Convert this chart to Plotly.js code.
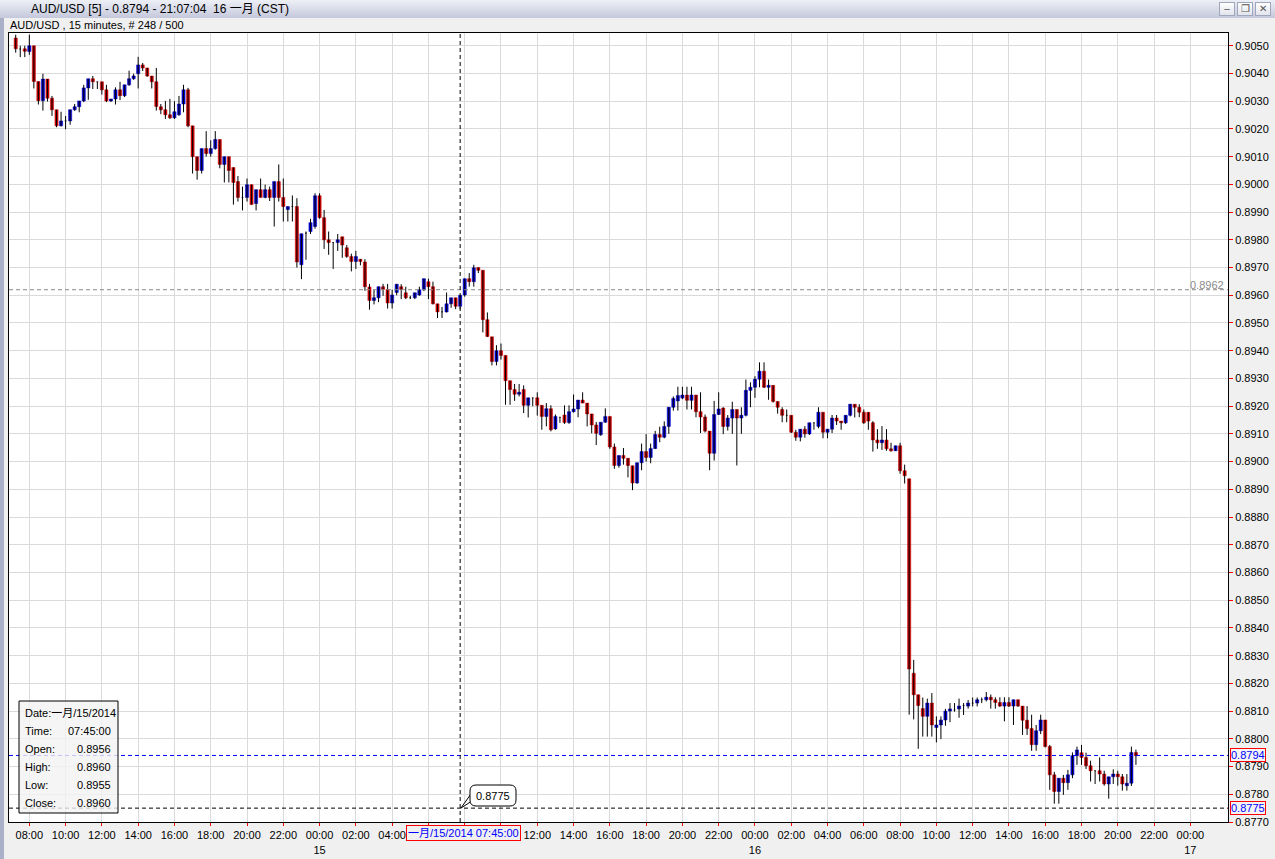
<!DOCTYPE html>
<html><head><meta charset="utf-8">
<script src="https://cdn.plot.ly/plotly-3.0.1.min.js"></script>
<style>
html,body{margin:0;padding:0;width:1275px;height:859px;overflow:hidden;background:#f0f0f0;font-family:"Liberation Sans",Arial,"Noto Sans CJK SC",sans-serif;}
#bar{position:absolute;left:0;top:0;width:1275px;height:18px;background:linear-gradient(#eef0f7,#c4c8db);}
#bar .t{position:absolute;left:31px;top:3px;font-size:12px;line-height:13px;color:#000;white-space:nowrap;}
#icon{position:absolute;left:10px;top:5px;width:15px;height:10px;background-image:radial-gradient(#666 40%,transparent 45%);background-size:2px 2px;}
.btn{position:absolute;top:2px;width:14px;height:12px;border:1px solid #a0a6bc;background:linear-gradient(#ffffff,#e2e4ec);font-size:10px;line-height:12px;text-align:center;color:#555;}
#sub{position:absolute;left:10px;top:19px;font-size:11px;line-height:13px;color:#000;white-space:nowrap;}
#strip{position:absolute;left:0;top:18px;width:4px;height:841px;background:#aab0c8;}
#chart{position:absolute;left:0;top:0;width:1275px;height:859px;}
</style></head><body>
<div id="bar"><div id="icon"></div><div class="t">AUD/USD [5] - 0.8794 - 21:07:04&nbsp; 16 一月 (CST)</div>
<div class="btn" style="left:1219px">&#8211;</div><div class="btn" style="left:1237px">&#10064;</div><div class="btn" style="left:1255px">&#10005;</div></div>
<div id="sub">AUD/USD , 15 minutes, # 248 / 500</div>
<div id="strip"></div>
<div id="chart"></div>
<script>
// 15-minute candles, 2014-01-14 07:15 .. 2014-01-16 21:00 (CST)
const openP = [
0.90528,0.90488,0.90489,0.90479,0.90500,0.90371,0.90302,0.90380,0.90311,0.90269,
0.90211,0.90229,0.90229,0.90269,0.90280,0.90301,0.90348,0.90381,0.90370,0.90370,
0.90341,0.90301,0.90308,0.90341,0.90320,0.90359,0.90381,0.90399,0.90431,0.90420,
0.90391,0.90370,0.90280,0.90269,0.90251,0.90240,0.90251,0.90290,0.90341,0.90211,
0.90100,0.90050,0.90129,0.90111,0.90129,0.90162,0.90072,0.90100,0.90061,0.90010,
0.89953,0.89953,0.89999,0.89931,0.89981,0.89953,0.89981,0.89953,0.90010,0.89953,
0.89909,0.89920,0.89920,0.89710,0.89824,0.89830,0.89848,0.89959,0.89880,0.89800,
0.89790,0.89790,0.89811,0.89771,0.89740,0.89722,0.89730,0.89720,0.89630,0.89581,
0.89591,0.89631,0.89621,0.89572,0.89610,0.89631,0.89609,0.89591,0.89591,0.89601,
0.89620,0.89649,0.89631,0.89569,0.89540,0.89540,0.89569,0.89591,0.89560,0.89601,
0.89660,0.89649,0.89700,0.89690,0.89512,0.89450,0.89361,0.89400,0.89383,0.89292,
0.89260,0.89243,0.89260,0.89203,0.89230,0.89230,0.89203,0.89163,0.89191,0.89118,
0.89160,0.89168,0.89141,0.89180,0.89190,0.89222,0.89211,0.89172,0.89132,0.89097,
0.89142,0.89163,0.89053,0.88986,0.89022,0.89012,0.88985,0.88923,0.88996,0.89036,
0.89015,0.89047,0.89098,0.89088,0.89127,0.89196,0.89219,0.89229,0.89240,0.89221,
0.89240,0.89180,0.89161,0.89110,0.89030,0.89170,0.89193,0.89127,0.89157,0.89188,
0.89157,0.89167,0.89257,0.89268,0.89297,0.89326,0.89268,0.89275,0.89217,0.89188,
0.89167,0.89167,0.89106,0.89088,0.89117,0.89100,0.89140,0.89127,0.89178,0.89106,
0.89117,0.89157,0.89146,0.89140,0.89167,0.89207,0.89196,0.89178,0.89178,0.89140,
0.89078,0.89068,0.89078,0.89046,0.89039,0.89057,0.88967,0.88938,0.88237,0.88159,
0.88109,0.88081,0.88129,0.88041,0.88050,0.88068,0.88100,0.88104,0.88108,0.88120,
0.88118,0.88129,0.88129,0.88141,0.88141,0.88150,0.88141,0.88131,0.88118,0.88131,
0.88118,0.88141,0.88118,0.88067,0.88037,0.87979,0.88029,0.88068,0.87972,0.87870,
0.87810,0.87858,0.87842,0.87870,0.87939,0.87950,0.87933,0.87903,0.87885,0.87885,
0.87873,0.87837,0.87863,0.87873,0.87863,0.87831,0.87840,0.87951];
const highP = [
0.90540,0.90500,0.90500,0.90540,0.90500,0.90371,0.90399,0.90380,0.90319,0.90269,
0.90262,0.90247,0.90270,0.90290,0.90301,0.90359,0.90381,0.90391,0.90370,0.90370,
0.90359,0.90308,0.90350,0.90370,0.90359,0.90410,0.90399,0.90460,0.90438,0.90420,
0.90391,0.90420,0.90290,0.90301,0.90308,0.90300,0.90319,0.90359,0.90348,0.90211,
0.90100,0.90129,0.90192,0.90159,0.90192,0.90162,0.90100,0.90100,0.90061,0.90030,
0.89992,0.90021,0.89999,0.89981,0.90021,0.89999,0.89992,0.90010,0.90072,0.90021,
0.89920,0.89960,0.89950,0.89822,0.89830,0.89876,0.89968,0.89968,0.89908,0.89830,
0.89790,0.89821,0.89811,0.89781,0.89750,0.89760,0.89730,0.89730,0.89641,0.89620,
0.89631,0.89641,0.89641,0.89620,0.89640,0.89640,0.89631,0.89598,0.89609,0.89631,
0.89660,0.89660,0.89649,0.89569,0.89558,0.89610,0.89591,0.89591,0.89600,0.89660,
0.89680,0.89710,0.89700,0.89690,0.89538,0.89450,0.89420,0.89426,0.89383,0.89292,
0.89280,0.89280,0.89275,0.89230,0.89230,0.89250,0.89203,0.89211,0.89203,0.89170,
0.89160,0.89203,0.89203,0.89242,0.89222,0.89250,0.89211,0.89172,0.89143,0.89142,
0.89192,0.89163,0.89065,0.89022,0.89049,0.89012,0.88985,0.88996,0.89065,0.89099,
0.89065,0.89111,0.89126,0.89145,0.89196,0.89235,0.89270,0.89270,0.89270,0.89270,
0.89240,0.89250,0.89170,0.89110,0.89219,0.89250,0.89196,0.89168,0.89216,0.89188,
0.89196,0.89296,0.89286,0.89308,0.89358,0.89358,0.89296,0.89275,0.89217,0.89196,
0.89188,0.89167,0.89115,0.89117,0.89128,0.89140,0.89140,0.89196,0.89178,0.89117,
0.89168,0.89168,0.89146,0.89167,0.89207,0.89207,0.89207,0.89188,0.89178,0.89146,
0.89117,0.89128,0.89117,0.89068,0.89057,0.89068,0.88989,0.88938,0.88285,0.88159,
0.88149,0.88145,0.88165,0.88081,0.88081,0.88108,0.88129,0.88129,0.88145,0.88129,
0.88140,0.88149,0.88149,0.88149,0.88169,0.88160,0.88150,0.88150,0.88150,0.88150,
0.88141,0.88141,0.88118,0.88118,0.88087,0.88050,0.88087,0.88068,0.87978,0.87881,
0.87858,0.87870,0.87888,0.87951,0.87972,0.87978,0.87950,0.87921,0.87885,0.87933,
0.87885,0.87863,0.87890,0.87885,0.87873,0.87873,0.87972,0.87961];
const lowP = [
0.90475,0.90459,0.90459,0.90467,0.90346,0.90288,0.90266,0.90299,0.90247,0.90206,
0.90209,0.90199,0.90215,0.90265,0.90260,0.90297,0.90305,0.90344,0.90344,0.90324,
0.90297,0.90297,0.90288,0.90304,0.90315,0.90355,0.90377,0.90346,0.90409,0.90388,
0.90346,0.90266,0.90253,0.90236,0.90236,0.90236,0.90247,0.90260,0.90206,0.90039,
0.90017,0.90039,0.90100,0.90100,0.90125,0.90058,0.90007,0.90007,0.89927,0.89938,
0.89906,0.89938,0.89927,0.89906,0.89953,0.89950,0.89940,0.89848,0.89938,0.89866,
0.89866,0.89866,0.89700,0.89658,0.89728,0.89821,0.89840,0.89876,0.89767,0.89746,
0.89695,0.89760,0.89735,0.89735,0.89686,0.89695,0.89708,0.89616,0.89548,0.89567,
0.89575,0.89598,0.89552,0.89552,0.89600,0.89586,0.89586,0.89586,0.89586,0.89598,
0.89615,0.89586,0.89567,0.89518,0.89518,0.89538,0.89555,0.89550,0.89550,0.89595,
0.89631,0.89631,0.89680,0.89466,0.89450,0.89347,0.89347,0.89368,0.89205,0.89205,
0.89219,0.89235,0.89175,0.89159,0.89200,0.89166,0.89115,0.89127,0.89109,0.89115,
0.89140,0.89136,0.89136,0.89177,0.89160,0.89211,0.89127,0.89102,0.89060,0.89093,
0.89140,0.89046,0.88974,0.88978,0.88989,0.88943,0.88897,0.88920,0.88969,0.89000,
0.88994,0.89045,0.89070,0.89084,0.89100,0.89184,0.89184,0.89225,0.89188,0.89188,
0.89160,0.89103,0.89105,0.88969,0.89004,0.89168,0.89099,0.89112,0.89100,0.88986,
0.89100,0.89163,0.89196,0.89230,0.89268,0.89265,0.89223,0.89213,0.89173,0.89142,
0.89142,0.89103,0.89075,0.89073,0.89086,0.89096,0.89115,0.89120,0.89084,0.89084,
0.89103,0.89132,0.89115,0.89136,0.89163,0.89159,0.89160,0.89136,0.89115,0.89036,
0.89046,0.89042,0.89039,0.89036,0.89039,0.88956,0.88921,0.88087,0.88070,0.87964,
0.88008,0.88008,0.88008,0.87987,0.87999,0.88047,0.88060,0.88098,0.88076,0.88086,
0.88109,0.88117,0.88117,0.88129,0.88135,0.88109,0.88109,0.88115,0.88063,0.88115,
0.88050,0.88115,0.88014,0.88014,0.87957,0.87957,0.88017,0.87969,0.87816,0.87766,
0.87766,0.87798,0.87816,0.87858,0.87906,0.87906,0.87891,0.87846,0.87837,0.87846,
0.87831,0.87784,0.87837,0.87831,0.87813,0.87813,0.87830,0.87906];
const closeP = [
0.90489,0.90488,0.90480,0.90500,0.90371,0.90302,0.90380,0.90311,0.90269,0.90211,
0.90229,0.90229,0.90269,0.90280,0.90301,0.90348,0.90381,0.90370,0.90370,0.90341,
0.90301,0.90308,0.90341,0.90320,0.90359,0.90381,0.90391,0.90431,0.90420,0.90391,
0.90370,0.90281,0.90269,0.90251,0.90240,0.90262,0.90290,0.90341,0.90211,0.90100,
0.90050,0.90129,0.90111,0.90129,0.90162,0.90072,0.90100,0.90050,0.90007,0.89953,
0.89953,0.89999,0.89927,0.89981,0.89953,0.89981,0.89953,0.90010,0.89953,0.89920,
0.89920,0.89920,0.89720,0.89822,0.89824,0.89862,0.89959,0.89880,0.89800,0.89790,
0.89790,0.89800,0.89781,0.89740,0.89722,0.89740,0.89722,0.89631,0.89581,0.89591,
0.89631,0.89621,0.89572,0.89601,0.89640,0.89621,0.89591,0.89591,0.89609,0.89620,
0.89660,0.89631,0.89569,0.89540,0.89540,0.89569,0.89591,0.89560,0.89600,0.89660,
0.89649,0.89699,0.89690,0.89512,0.89451,0.89361,0.89400,0.89383,0.89292,0.89260,
0.89243,0.89250,0.89203,0.89230,0.89230,0.89203,0.89163,0.89191,0.89115,0.89163,
0.89160,0.89141,0.89180,0.89190,0.89222,0.89211,0.89172,0.89132,0.89102,0.89142,
0.89163,0.89053,0.88986,0.89022,0.89012,0.88986,0.88923,0.88996,0.89036,0.89015,
0.89047,0.89098,0.89088,0.89127,0.89196,0.89228,0.89238,0.89240,0.89221,0.89240,
0.89180,0.89161,0.89110,0.89030,0.89170,0.89190,0.89127,0.89157,0.89188,0.89157,
0.89167,0.89257,0.89268,0.89297,0.89326,0.89268,0.89275,0.89217,0.89196,0.89167,
0.89167,0.89106,0.89088,0.89117,0.89100,0.89140,0.89140,0.89178,0.89106,0.89117,
0.89157,0.89146,0.89140,0.89167,0.89207,0.89196,0.89178,0.89140,0.89146,0.89078,
0.89068,0.89078,0.89046,0.89039,0.89057,0.88967,0.88949,0.88252,0.88159,0.88120,
0.88081,0.88129,0.88050,0.88050,0.88068,0.88100,0.88108,0.88104,0.88118,0.88120,
0.88129,0.88129,0.88141,0.88141,0.88150,0.88141,0.88131,0.88118,0.88131,0.88118,
0.88141,0.88118,0.88067,0.88037,0.87979,0.88029,0.88068,0.87972,0.87870,0.87810,
0.87858,0.87842,0.87870,0.87939,0.87960,0.87933,0.87903,0.87885,0.87885,0.87873,
0.87837,0.87863,0.87873,0.87863,0.87837,0.87840,0.87951,0.87939];

// tick labels every 2 hours; the three hidden under the cursor date label are left blank
const xTickLabels = ['08:00','10:00','12:00','14:00','16:00','18:00','20:00','22:00','00:00<br>15',
 '02:00','04:00','','','','12:00','14:00','16:00','18:00','20:00','22:00','00:00<br>16',
 '02:00','04:00','06:00','08:00','10:00','12:00','14:00','16:00','18:00','20:00','22:00','00:00<br>17'];
const firstTickIndex = 3;      // 08:00 candle (first candle is 07:15)
const candlesPerTick = 8;      // 2 hours of 15-minute candles

const levelGray = 0.8962, levelBid = 0.8794, levelCross = 0.8775;
const crossIndex = 98;         // 一月/15/2014 07:45:00
const crossLabel = '一月/15/2014 07:45:00';
const tipLabels = ['Time:','Open:','High:','Low:','Close:'];
const tipValues = ['07:45:00','0.8956','0.8960','0.8955','0.8960'];
const tipDate = 'Date:一月/15/2014';

// ---------- build ----------
const idx = openP.map((_, i) => i);
const isDoji = idx.map(i => Math.abs(openP[i] - closeP[i]) < 1e-9);
const bx = idx.filter(i => !isDoji[i]);
const dx = idx.filter(i => isDoji[i]);
const tickvals = xTickLabels.map((_, k) => firstTickIndex + k * candlesPerTick);
const yTicks = []; for (let k = 0; k <= 28; k++) yTicks.push(+(0.877 + k * 0.001).toFixed(4));

const L = 9, T = 33, W = 1219, H = 789;
const px = X => (X - L) / W;
const py = Y => (T + H - Y) / H;
const P = (x, y) => px(x) + ',' + py(y);
function rr(x0, y0, x1, y1, r) {
  return 'M' + P(x0 + r, y0) + ' L' + P(x1 - r, y0) + ' Q' + P(x1, y0) + ' ' + P(x1, y0 + r) +
    ' L' + P(x1, y1 - r) + ' Q' + P(x1, y1) + ' ' + P(x1 - r, y1) + ' L' + P(x0 + r, y1) +
    ' Q' + P(x0, y1) + ' ' + P(x0, y1 - r) + ' L' + P(x0, y0 + r) + ' Q' + P(x0, y0) + ' ' + P(x0 + r, y0) + ' Z';
}

const RED = '#c80000', BLUE = '#0000c8';
const traces = [
  { type: 'ohlc', x: idx, open: openP, high: highP, low: lowP, close: closeP, tickwidth: 0,
    increasing: { line: { color: '#000', width: 1 } }, decreasing: { line: { color: '#000', width: 1 } }, hoverinfo: 'skip' },
  { type: 'ohlc', x: dx, open: dx.map(i => openP[i]), high: dx.map(i => openP[i]), low: dx.map(i => openP[i]), close: dx.map(i => closeP[i]), tickwidth: 0.18,
    increasing: { line: { color: '#000', width: 1 } }, decreasing: { line: { color: '#000', width: 1 } }, hoverinfo: 'skip' },
  { type: 'candlestick', x: bx, open: bx.map(i => openP[i]), close: bx.map(i => closeP[i]),
    high: bx.map(i => Math.max(openP[i], closeP[i])), low: bx.map(i => Math.min(openP[i], closeP[i])),
    whiskerwidth: 0,
    increasing: { fillcolor: BLUE, line: { color: BLUE, width: 0.5 } },
    decreasing: { fillcolor: RED, line: { color: RED, width: 0.5 } }, hoverinfo: 'skip' }
];

const dash = '4px,3px';
const shapes = [
  { type: 'line', xref: 'paper', yref: 'y', x0: 0, x1: 1, y0: levelGray, y1: levelGray, line: { color: '#8a8a8a', width: 1, dash: dash } },
  { type: 'line', xref: 'paper', yref: 'y', x0: 0, x1: 1, y0: levelBid, y1: levelBid, line: { color: '#0000ff', width: 1, dash: dash } },
  { type: 'line', xref: 'paper', yref: 'y', x0: 0, x1: 1, y0: levelCross, y1: levelCross, line: { color: '#000', width: 1, dash: dash } },
  { type: 'line', xref: 'x', yref: 'paper', x0: crossIndex, x1: crossIndex, y0: 0, y1: 1, line: { color: '#000', width: 1, dash: dash } },
  { type: 'rect', xref: 'paper', yref: 'paper', x0: px(19), x1: px(118), y0: py(813), y1: py(701), fillcolor: 'rgba(242,242,242,0.8)', line: { color: '#000', width: 1 } },
  { type: 'path', xref: 'paper', yref: 'paper', path: 'M' + P(473, 791) + ' L' + P(461, 808) + ' L' + P(475, 799) + ' Z', fillcolor: '#fff', line: { color: '#000', width: 1 } },
  { type: 'path', xref: 'paper', yref: 'paper', path: rr(470, 785, 516, 806, 6), fillcolor: '#fff', line: { color: '#000', width: 1 } }
];

const F = '"Liberation Sans", Arial, "Noto Sans CJK SC", sans-serif';
const annotations = [
  { xref: 'paper', yref: 'y', x: px(1226), y: levelGray, xanchor: 'right', yanchor: 'bottom', yshift: -3, text: '0.8962', showarrow: false, font: { family: F, color: '#8a8a8a', size: 11 } },
  { xref: 'paper', yref: 'y', x: px(1230), y: levelBid, xanchor: 'left', yanchor: 'middle', text: '0.8794', showarrow: false, font: { family: F, color: '#0000ff', size: 11 }, bordercolor: '#ff0000', borderwidth: 1, borderpad: 0, bgcolor: '#f4f4f4' },
  { xref: 'paper', yref: 'y', x: px(1230), y: levelCross, xanchor: 'left', yanchor: 'middle', text: '0.8775', showarrow: false, font: { family: F, color: '#0000ff', size: 11 }, bordercolor: '#ff0000', borderwidth: 1, borderpad: 0, bgcolor: '#f4f4f4' },
  { xref: 'paper', yref: 'paper', x: px(463), y: py(833), xanchor: 'center', yanchor: 'middle', text: crossLabel, showarrow: false, font: { family: F, color: '#0000ff', size: 11 }, bordercolor: '#ff0000', borderwidth: 1, borderpad: 1, bgcolor: '#f0f0f0' },
  { xref: 'paper', yref: 'paper', x: px(493), y: py(796), xanchor: 'center', yanchor: 'middle', text: '0.8775', showarrow: false, font: { family: F, color: '#000', size: 11 } },
  { xref: 'paper', yref: 'paper', x: px(23), y: py(713), xanchor: 'left', yanchor: 'middle', text: tipDate, showarrow: false, font: { family: F, color: '#000', size: 11 } }
];
const rowY = [731, 749, 767, 785, 803];
tipLabels.forEach((t, k) => {
  annotations.push({ xref: 'paper', yref: 'paper', x: px(23), y: py(rowY[k]), xanchor: 'left', yanchor: 'middle', text: t, showarrow: false, font: { family: F, color: '#000', size: 11 } });
  annotations.push({ xref: 'paper', yref: 'paper', x: px(113), y: py(rowY[k]), xanchor: 'right', yanchor: 'middle', text: tipValues[k], showarrow: false, font: { family: F, color: '#000', size: 11 } });
});

const layout = {
  width: 1275, height: 859,
  margin: { l: L, r: 1275 - L - W, t: T, b: 859 - T - H, pad: 0 },
  paper_bgcolor: 'rgba(0,0,0,0)', plot_bgcolor: '#ffffff',
  showlegend: false, hovermode: false,
  font: { family: F, size: 11, color: '#000' },
  boxgap: 0.3, boxgroupgap: 0,
  xaxis: { type: 'linear', range: [-1.48, 267.3], tickmode: 'array', tickvals: tickvals, ticktext: xTickLabels,
    ticks: 'outside', ticklen: 3, tickcolor: '#ff0000', tickwidth: 1, showgrid: true, gridcolor: '#dadada', gridwidth: 1,
    showline: true, linecolor: '#000', linewidth: 1, mirror: true, zeroline: false, rangeslider: { visible: false }, fixedrange: true,
    tickfont: { family: F, size: 11, color: '#000' } },
  yaxis: { side: 'right', range: [0.8770, 0.90546], tickmode: 'array', tickvals: yTicks, tickformat: '.4f',
    ticks: 'outside', ticklen: 4, tickcolor: '#ff0000', tickwidth: 1, showgrid: true, gridcolor: '#dadada', gridwidth: 1,
    showline: true, linecolor: '#000', linewidth: 1, mirror: true, zeroline: false, fixedrange: true,
    tickfont: { family: F, size: 11, color: '#000' } },
  shapes: shapes, annotations: annotations
};
Plotly.newPlot('chart', traces, layout, { staticPlot: true, displayModeBar: false });
</script>
</body></html>
